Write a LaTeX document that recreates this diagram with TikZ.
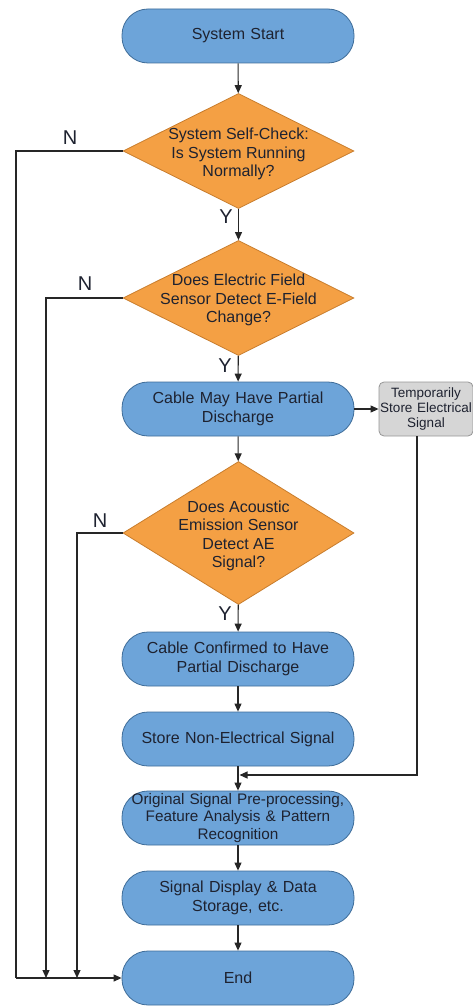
\documentclass[tikz,border=0pt]{standalone}
\usepackage{fontspec}
\setmainfont{Liberation Sans}
\usetikzlibrary{shapes.geometric,arrows.meta}
\definecolor{boxblue}{RGB}{109,164,217}
\definecolor{boxedge}{RGB}{62,108,152}
\definecolor{decorange}{RGB}{244,160,68}
\definecolor{decedge}{RGB}{200,125,45}
\definecolor{memgray}{RGB}{214,214,214}
\definecolor{memedge}{RGB}{150,150,150}
\definecolor{ink}{RGB}{30,34,48}
\begin{document}
\begin{tikzpicture}[x=1pt,y=-1pt,
  proc/.style={draw=boxedge, fill=boxblue, line width=0.8pt, rounded corners=26pt,
    minimum width=232pt, minimum height=54pt, inner sep=0pt, text width=226pt,
    align=center, text=ink, font=\fontsize{16}{18.5}\selectfont},
  dec/.style={diamond, draw=decedge, fill=decorange, line width=0.8pt,
    minimum width=231pt, minimum height=115pt, inner sep=0pt},
  dectext/.style={align=center, text=ink, inner sep=0pt, font=\fontsize{16}{18.5}\selectfont},
  mem/.style={draw=memedge, fill=memgray, line width=0.8pt, rounded corners=5pt,
    minimum width=94pt, minimum height=54pt, inner sep=0pt, text width=94pt,
    align=center, text=ink, font=\fontsize{13.5}{15}\selectfont},
  lbl/.style={text=ink, inner sep=0pt, font=\fontsize{20}{20}\selectfont},
  conn/.style={draw=black!85, line width=1.1pt, -{Triangle[length=8pt,width=7pt]}},
  wire/.style={draw=black!85, line width=1.1pt}
]
\useasboundingbox (0,0) rectangle (473,1006);

% main column
\node[proc] (start) at (238,36) {System Start};
\node[dec] (d1) at (238.5,151) {};
\node[dectext] at (238.5,154) {System Self-Check:\\Is System Running\\Normally?};
\node[dec] (d2) at (238.5,298) {};
\node[dectext] at (238.5,300) {Does Electric Field\\Sensor Detect E-Field\\Change?};
\node[proc] (maypd) at (238,409) {Cable May Have Partial\\Discharge};
\node[mem] (tmp) at (426,409) {Temporarily\\Store Electrical\\Signal};
\node[dec, minimum height=143pt] (d3) at (238.5,533) {};
\node[dectext] at (238.5,536) {Does Acoustic\\Emission Sensor\\Detect AE\\Signal?};
\node[proc] (confpd) at (238,659) {Cable Confirmed to Have\\Partial Discharge};
\node[proc] (store) at (238,739) {Store Non-Electrical Signal};
\node[proc, font=\fontsize{15.3}{17.3}\selectfont] (proc) at (238,818)
  {Original Signal Pre-processing,\\Feature Analysis \& Pattern\\Recognition};
\node[proc] (disp) at (238,898) {Signal Display \& Data\\Storage, etc.};
\node[proc] (end) at (238,978) {End};

% main flow
\draw[conn] (start) -- (d1);
\draw[conn] (d1) -- (d2);
\draw[conn] (d2) -- (maypd);
\draw[conn] (maypd) -- (tmp);
\draw[conn] (maypd) -- (d3);
\draw[conn] (d3) -- (confpd);
\draw[conn] (confpd) -- (store);
\draw[conn] (store) -- (proc);
\draw[conn] (proc) -- (disp);
\draw[conn] (disp) -- (end);

% stored electrical signal rejoins before pre-processing
\coordinate (join) at (239.5,775);
\draw[conn] ([xshift=-9pt]tmp.south) |- (join);

% "N" branches to End
\coordinate (n1) at (16,978);
\coordinate (n2) at (46,978);
\coordinate (n3) at (77,978);
\draw[wire] (d1.west) -| (n1);
\draw[conn] (n1) -- (end.west);
\draw[conn] (d2.west) -| (n2);
\draw[conn] (d3.west) -| (n3);

% branch labels
\node[lbl] at (70,138) {N};
\node[lbl] at (85,284) {N};
\node[lbl] at (100,521) {N};
\node[lbl] at (226,217) {Y};
\node[lbl] at (225,366) {Y};
\node[lbl] at (225,614) {Y};
\end{tikzpicture}
\end{document}
